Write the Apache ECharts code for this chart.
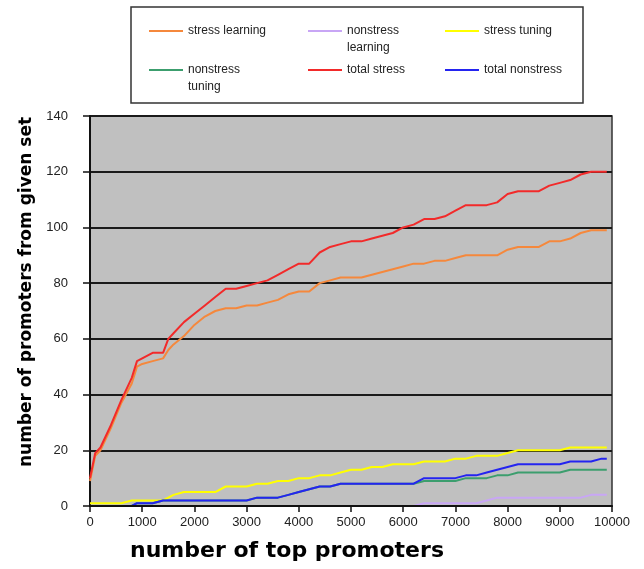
<!DOCTYPE html>
<html><head><meta charset="utf-8">
<script src="https://cdn.jsdelivr.net/npm/echarts@6/dist/echarts.min.js"></script>
<style>html,body{margin:0;padding:0;background:#fff}#c{width:644px;height:569px}</style>
</head><body><div id="c"></div>
<script>
// x positions (number of top promoters)
const topPromoters = [0,100,200,400,600,800,900,1000,1200,1400,1500,1600,1800,2000,2200,2400,2600,2800,3000,3200,3400,3600,3800,4000,4200,4400,4600,4800,5000,5200,5400,5600,5800,6000,6200,6400,6600,6800,7000,7200,7400,7600,7800,8000,8200,8400,8600,8800,9000,9200,9400,9600,9800,9900];
const stressLearning = [9,18,20,28,37,44,50,51,52,53,56,58,61,65,68,70,71,71,72,72,73,74,76,77,77,80,81,82,82,82,83,84,85,86,87,87,88,88,89,90,90,90,90,92,93,93,93,95,95,96,98,99,99,99];
const nonstressLearning = [0,0,0,0,0,0,0,0,0,0,0,0,0,0,0,0,0,0,0,0,0,0,0,0,0,0,0,0,0,0,0,0,0,0,0,1,1,1,1,1,1,2,3,3,3,3,3,3,3,3,3,4,4,4];
const stressTuning = [1,1,1,1,1,2,2,2,2,2,3,4,5,5,5,5,7,7,7,8,8,9,9,10,10,11,11,12,13,13,14,14,15,15,15,16,16,16,17,17,18,18,18,19,20,20,20,20,20,21,21,21,21,21];
const nonstressTuning = [0,0,0,0,0,0,1,1,1,2,2,2,2,2,2,2,2,2,2,3,3,3,4,5,6,7,7,8,8,8,8,8,8,8,8,9,9,9,9,10,10,10,11,11,12,12,12,12,12,13,13,13,13,13];
const totalStress = [10,19,21,29,38,46,52,53,55,55,60,62,66,69,72,75,78,78,79,80,81,83,85,87,87,91,93,94,95,95,96,97,98,100,101,103,103,104,106,108,108,108,109,112,113,113,113,115,116,117,119,120,120,120];
const totalNonstress = [0,0,0,0,0,0,1,1,1,2,2,2,2,2,2,2,2,2,2,3,3,3,4,5,6,7,7,8,8,8,8,8,8,8,8,10,10,10,10,11,11,12,13,14,15,15,15,15,15,16,16,16,17,17];

const seriesNames = ['stress learning','nonstress learning','stress tuning','nonstress tuning','total stress','total nonstress'];
const legendLabels = ['stress learning','nonstress\nlearning','stress tuning','nonstress\ntuning','total stress','total nonstress'];
const seriesValues = [stressLearning, nonstressLearning, stressTuning, nonstressTuning, totalStress, totalNonstress];
const colors = ['#f5883c','#c8a6f5','#ffff00','#3c9e6e','#f22a2a','#2424f0'];

const legendPos = [[149,31],[308,31],[445,31],[149,70],[308,70],[445,70]];

const chart = echarts.init(document.getElementById('c'));
const legends = seriesNames.map((n,i)=>{
  const two = legendLabels[i].indexOf('\n')>=0;
  const [lx, ly] = legendPos[i];
  return {
    data:[{name:n, icon:'rect'}],
    left: lx, top: two ? ly-25.5 : ly-8.5, padding:0,
    itemWidth:34, itemHeight:2, itemGap:0, selectedMode:false,
    formatter: ()=> two ? ' \n' + legendLabels[i] : legendLabels[i],
    textStyle:{fontFamily:'Liberation Sans', fontSize:12, color:'#222', lineHeight:17}
  };
});

chart.setOption({
  backgroundColor:'#fff',
  animation:false,
  color: colors,
  legend: legends,
  grid:{left:90, right:32, top:116, bottom:63, show:true, backgroundColor:'#c0c0c0', borderColor:'#333', borderWidth:1.5},
  xAxis:{type:'value', min:0, max:10000, interval:1000, z:10,
    axisLine:{show:true, lineStyle:{color:'#111', width:2}},
    axisTick:{show:true, length:6, lineStyle:{color:'#111', width:1.5}},
    axisLabel:{margin:10, fontFamily:'Liberation Sans', fontSize:13, color:'#222', formatter:v=>String(v)},
    splitLine:{show:false}},
  yAxis:{type:'value', min:0, max:140, interval:20,
    axisLine:{show:true, lineStyle:{color:'#111', width:2}},
    axisTick:{show:true, length:7, lineStyle:{color:'#111', width:1.5}},
    axisLabel:{margin:22, fontFamily:'Liberation Sans', fontSize:13, color:'#222', formatter:v=>String(v)},
    splitLine:{show:true, lineStyle:{color:'#1a1a1a', width:2}}},
  graphic:[
    {type:'rect', z:0, shape:{x:131, y:7, width:452, height:96}, style:{fill:'#fff', stroke:'#333', lineWidth:1.5}},
    {type:'text', x:27, y:292, rotation:Math.PI/2, style:{text:'number of promoters from given set', font:'bold 17px "DejaVu Sans"', fill:'#000', align:'center', verticalAlign:'middle'}},
    {type:'text', x:287, y:551, style:{text:'number of top promoters', font:'bold 22px "DejaVu Sans"', fill:'#000', align:'center', verticalAlign:'middle'}}
  ],
  series: seriesNames.map((n,i)=>({
    name:n, type:'line', showSymbol:false, symbol:'none',
    lineStyle:{width:2, color:colors[i]}, itemStyle:{color:colors[i]},
    data: topPromoters.map((x,j)=>[x, seriesValues[i][j]])
  }))
});
</script></body></html>
